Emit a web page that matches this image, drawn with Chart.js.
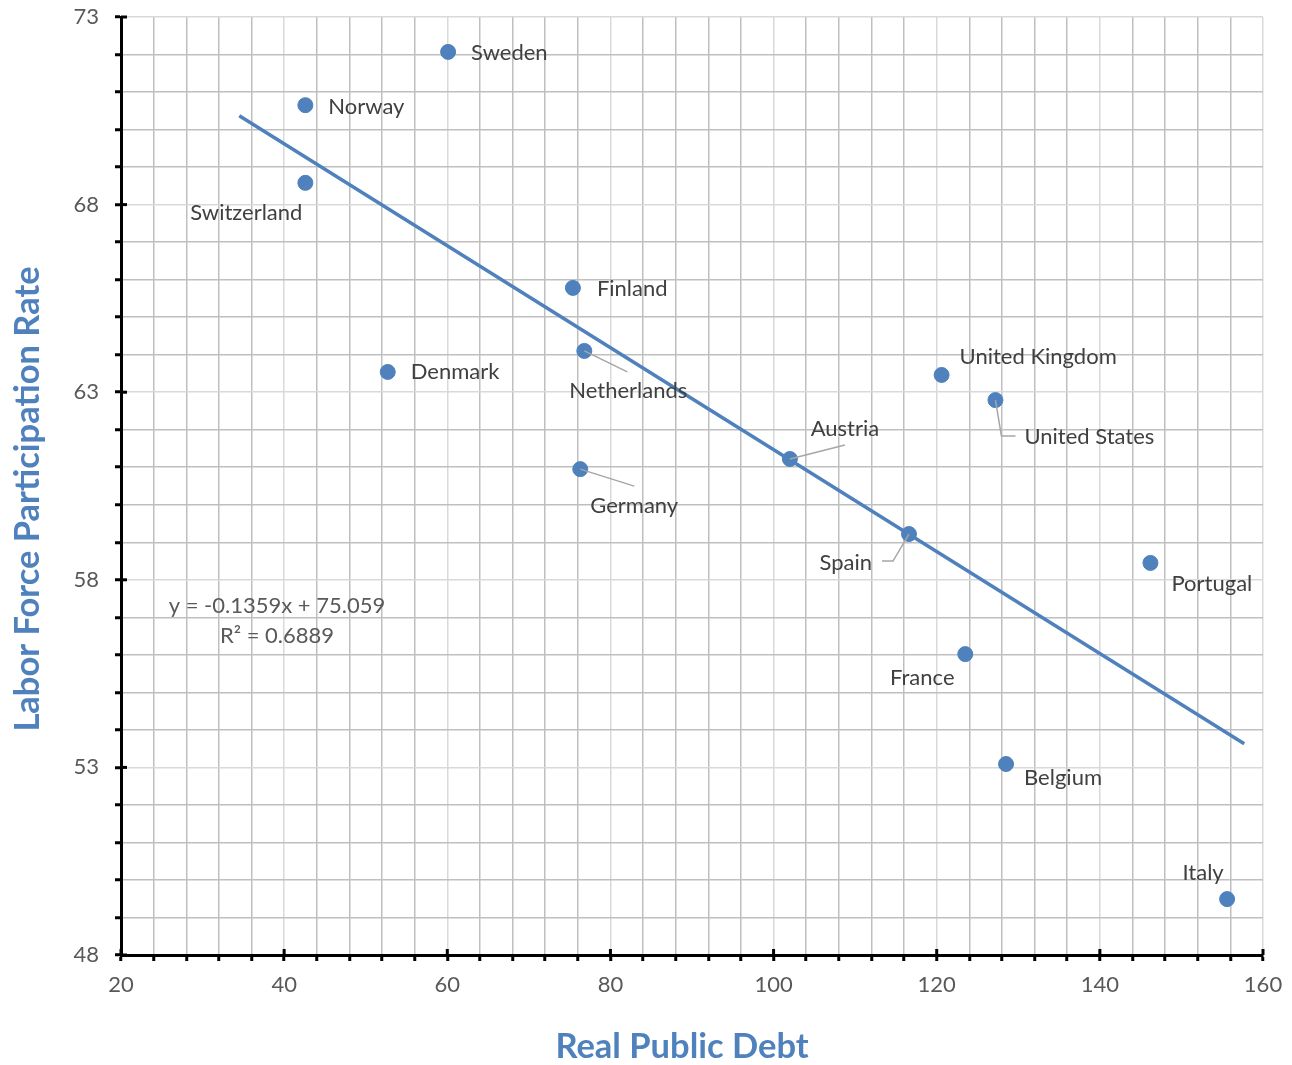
<!DOCTYPE html>
<html>
<head>
<meta charset="utf-8">
<script src="https://cdn.jsdelivr.net/npm/chart.js@4.4.1/dist/chart.umd.min.js"></script>
<style>
  html, body { margin: 0; padding: 0; background: #ffffff; }
  #wrap { width: 1292px; height: 1065px; }
</style>
</head>
<body>
<div id="wrap"><canvas id="debtChart" width="1292" height="1065"></canvas></div>
<script>
// country data
const countries = ["Sweden", "Norway", "Switzerland", "Finland", "Netherlands", "Denmark",
  "United Kingdom", "United States", "Austria", "Germany", "Spain", "Portugal",
  "France", "Belgium", "Italy"];
const publicDebt = [60.1, 42.6, 42.6, 75.4, 76.8, 52.7, 120.6, 127.2, 102.0, 76.3, 116.6, 146.2, 123.5, 128.5, 155.6];
const participation = [72.07, 70.65, 68.58, 65.78, 64.10, 63.54, 63.46, 62.79, 61.22, 60.95, 59.22, 58.45, 56.02, 53.09, 49.49];

// linear trendline (from the chart's own equation)
const trendSlope = -0.1359;
const trendIntercept = 75.059;
const trendR2 = 0.6889;
const trendRange = [34.5, 157.7];

// axis ranges and titles
const xRange = [20, 160];
const yRange = [48, 73];
const xTitle = "Real Public Debt";
const yTitle = "Labor Force Participation Rate";

const blue = "#4f81bd";
const labelFont = "22px Lato";
const titleFont = "bold 34.5px Lato";

// where each label sits relative to its point: [align, dx, dy], plus optional leader line
const labelPlace = {
  "Sweden": ["left", 23, 1],
  "Norway": ["left", 23, 2],
  "Switzerland": ["center", -59, 30],
  "Finland": ["left", 24, 1],
  "Netherlands": ["center", 44, 40, [[0, 0], [43, 21]]],
  "Denmark": ["left", 23, 0],
  "United Kingdom": ["left", 18, -18],
  "United States": ["left", 29, 37, [[0, 0], [6, 36], [20, 36]]],
  "Austria": ["center", 55, -30, [[0, 0], [55, -14]]],
  "Germany": ["center", 54, 37, [[0, 0], [54, 17]]],
  "Spain": ["right", -37, 29, [[0, 0], [-16, 27], [-27, 27]]],
  "Portugal": ["left", 21, 21],
  "France": ["center", -43, 24],
  "Belgium": ["left", 18, 14],
  "Italy": ["center", -24, -26]
};

const points = publicDebt.map((d, i) => ({ x: d, y: participation[i] }));
const trendPoints = trendRange.map(x => ({ x: x, y: trendSlope * x + trendIntercept }));

const isMajorX = v => (v - xRange[0]) % 20 === 0;
const isMajorY = v => (v - yRange[0]) % 5 === 0;

// labels, leader lines, equation, axis titles and the inward half of the major ticks
const extras = {
  id: "extras",
  afterDatasetsDraw(chart) {
    const ctx = chart.ctx;
    const meta = chart.getDatasetMeta(0);
    ctx.save();
    meta.data.forEach((pt, i) => {
      const place = labelPlace[countries[i]];
      if (place[3]) {
        ctx.strokeStyle = "#a6a6a6";
        ctx.lineWidth = 1.5;
        ctx.beginPath();
        place[3].forEach((p, k) => {
          if (k === 0) ctx.moveTo(pt.x + p[0], pt.y + p[1]);
          else ctx.lineTo(pt.x + p[0], pt.y + p[1]);
        });
        ctx.stroke();
      }
    });
    ctx.font = labelFont;
    ctx.fillStyle = "#404040";
    ctx.textBaseline = "middle";
    meta.data.forEach((pt, i) => {
      const place = labelPlace[countries[i]];
      ctx.textAlign = place[0];
      ctx.fillText(countries[i], pt.x + place[1], pt.y + place[2]);
    });

    // trendline equation
    const area = chart.chartArea;
    ctx.fillStyle = "#595959";
    ctx.textAlign = "center";
    ctx.fillText("y = " + trendSlope + "x + " + trendIntercept, area.left + 156, 606);
    ctx.fillText("R\u00B2 = " + trendR2, area.left + 156, 636);

    // axis titles
    ctx.font = titleFont;
    ctx.fillStyle = blue;
    ctx.fillText(xTitle, 682, 1047);
    ctx.save();
    ctx.translate(28, 499);
    ctx.rotate(-Math.PI / 2);
    ctx.fillText(yTitle, 0, 0);
    ctx.restore();

    // major ticks cross the axis lines
    ctx.strokeStyle = "#000000";
    ctx.lineWidth = 3;
    const xs = chart.scales.x, ys = chart.scales.y;
    for (let v = xRange[0]; v <= xRange[1]; v += 20) {
      const px = xs.getPixelForValue(v);
      ctx.beginPath();
      ctx.moveTo(px, area.bottom);
      ctx.lineTo(px, area.bottom - 6);
      ctx.stroke();
    }
    for (let v = yRange[0]; v <= yRange[1]; v += 5) {
      const py = ys.getPixelForValue(v);
      ctx.beginPath();
      ctx.moveTo(area.left, py);
      ctx.lineTo(area.left + 6, py);
      ctx.stroke();
    }
    ctx.restore();
  }
};

new Chart(document.getElementById("debtChart"), {
  type: "scatter",
  data: {
    datasets: [{
      label: "Countries",
      data: points,
      backgroundColor: blue,
      borderColor: blue,
      pointRadius: 7.5,
      pointHoverRadius: 7.5,
      pointBorderWidth: 1
    }, {
      label: "Trend",
      data: trendPoints,
      showLine: true,
      borderColor: blue,
      borderWidth: 3.5,
      pointRadius: 0,
      fill: false
    }]
  },
  options: {
    responsive: false,
    animation: false,
    layout: { padding: { top: 17, right: 29, left: 0, bottom: 0 } },
    plugins: {
      legend: { display: false },
      tooltip: { enabled: false }
    },
    scales: {
      x: {
        type: "linear",
        min: xRange[0],
        max: xRange[1],
        afterFit: s => { s.height = 110; s.paddingLeft = 0; s.paddingRight = 0; },
        ticks: {
          stepSize: 4,
          autoSkip: false,
          maxRotation: 0,
          padding: 11,
          color: "#595959",
          font: { family: "Lato", size: 22 },
          callback: v => isMajorX(v) ? v : ""
        },
        grid: {
          color: c => isMajorX(c.tick.value) ? "#d9d9d9" : "#bfbfbf",
          lineWidth: 1.5,
          tickColor: "#000000",
          tickWidth: 3,
          tickLength: 6
        },
        border: { color: "#000000", width: 3 }
      },
      y: {
        type: "linear",
        min: yRange[0],
        max: yRange[1],
        afterFit: s => { s.width = 121; s.paddingTop = 0; s.paddingBottom = 0; },
        ticks: {
          stepSize: 1,
          autoSkip: false,
          padding: 16,
          color: "#595959",
          font: { family: "Lato", size: 22 },
          callback: v => isMajorY(v) ? v : ""
        },
        grid: {
          color: c => isMajorY(c.tick.value) ? "#d9d9d9" : "#bfbfbf",
          lineWidth: 1.5,
          tickColor: "#000000",
          tickWidth: 3,
          tickLength: 6
        },
        border: { color: "#000000", width: 3 }
      }
    }
  },
  plugins: [extras]
});
</script>
</body>
</html>
